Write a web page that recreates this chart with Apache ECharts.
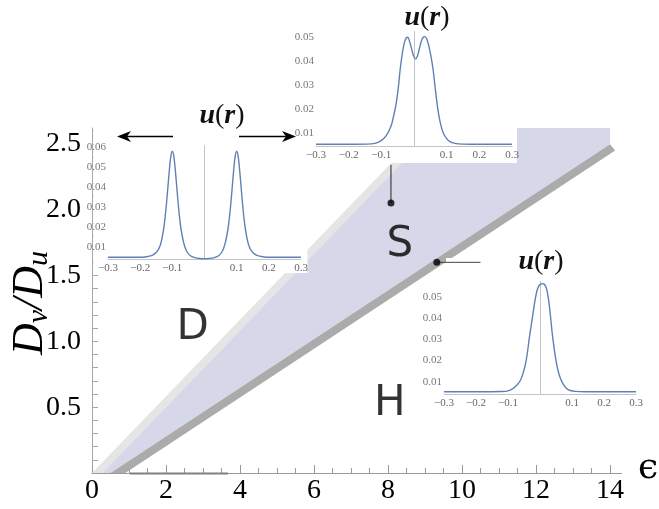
<!DOCTYPE html>
<html><head><meta charset="utf-8">
<script src="https://cdn.jsdelivr.net/npm/echarts@6/dist/echarts.min.js"></script>
<style>html,body{margin:0;padding:0;background:#fff}#c{width:659px;height:509px}</style>
</head><body><div id="c"></div>
<script>
// ---- main phase diagram (epsilon vs Dv/Du) ----
const xTickLabels = [0, 2, 4, 6, 8, 10, 12, 14];
const yTickLabels = [0.5, 1.0, 1.5, 2.0, 2.5];
const yMinorTicks = [0.1,0.2,0.3,0.4,0.5,0.6,0.7,0.8,0.9,1.0,1.1,1.2,1.3,1.4,1.5,1.6,1.7,1.8,1.9,2.0,2.1,2.2,2.3,2.4,2.5,2.6];
const lightBand = [[0,0],[0.28,0],[9.28,2.62],[9.0,2.62]];
const lavenderBand = [[0.28,0],[0.5,0],[14,2.4975],[14,2.62],[9.28,2.62]];
const darkBand = [[0.5,0],[0.9,0],[14.14,2.449],[14.0,2.4975]];
const markerDots = [[8.08,2.05],[9.32,1.60]];
const pointer1 = [[8.08,2.05],[8.08,2.34]];
const pointer2 = [[9.32,1.60],[10.5,1.60]];
const regionNames = ['D','S','H'];
const regionPos = [[2.72,1.10],[8.32,1.73],[8.05,0.52]];

// ---- inset profiles u(r) ----
const insetRTicks = [-0.3,-0.2,-0.1,0.1,0.2,0.3];
const inset1UTicks = [0.01,0.02,0.03,0.04,0.05,0.06];
const inset23UTicks = [0.01,0.02,0.03,0.04,0.05];
const inset1 = [[-0.3,.0047],[-0.25,.0047],[-0.2,.0047],[-0.18,.0050],[-0.165,.0055],[-0.155,.0064],[-0.145,.0082],[-0.14,.0097],[-0.135,.0122],[-0.13,.0160],[-0.125,.0212],[-0.12,.0285],[-0.115,.0375],[-0.11,.0470],[-0.105,.0548],[-0.1,.0577],[-0.095,.0548],[-0.09,.0470],[-0.085,.0375],[-0.08,.0285],[-0.075,.0212],[-0.07,.0160],[-0.065,.0122],[-0.06,.0095],[-0.055,.0076],[-0.045,.0056],[-0.03,.0045],[-0.015,.0041],[0,.0040],
  [0.015,.0041],[0.03,.0045],[0.045,.0056],[0.055,.0076],[0.06,.0095],[0.065,.0122],[0.07,.0160],[0.075,.0212],[0.08,.0285],[0.085,.0375],[0.09,.0470],[0.095,.0548],[0.1,.0577],[0.105,.0548],[0.11,.0470],[0.115,.0375],[0.12,.0285],[0.125,.0212],[0.13,.0160],[0.135,.0122],[0.14,.0097],[0.145,.0082],[0.155,.0064],[0.165,.0055],[0.18,.0050],[0.2,.0047],[0.25,.0047],[0.3,.0047]];
const inset2 = [[-0.3,.0054],[-0.2,.0054],[-0.13,.0056],[-0.11,.0062],[-0.095,.0075],[-0.085,.0090],[-0.075,.0115],[-0.068,.0140],[-0.062,.0175],[-0.055,.0220],[-0.048,.0290],[-0.042,.0370],[-0.036,.0430],[-0.030,.0475],[-0.024,.0497],[-0.019,.0500],[-0.014,.0485],[-0.008,.0455],[-0.002,.0425],[0.004,.0410],[0.010,.0420],[0.016,.0450],[0.022,.0482],[0.028,.0500],[0.034,.0503],[0.040,.0490],[0.046,.0460],[0.052,.0420],[0.058,.0370],[0.064,.0300],[0.070,.0230],[0.076,.0175],[0.083,.0130],[0.090,.0100],[0.100,.0078],[0.110,.0065],[0.125,.0058],[0.15,.0055],[0.2,.0054],[0.3,.0054]];
const inset3 = [[-0.3,.0053],[-0.2,.0053],[-0.12,.0054],[-0.10,.0057],[-0.085,.0068],[-0.072,.0085],[-0.062,.0105],[-0.054,.0135],[-0.046,.0180],[-0.040,.0230],[-0.034,.0300],[-0.028,.0360],[-0.022,.0420],[-0.016,.0480],[-0.010,.0525],[-0.004,.0550],[0.002,.0560],[0.008,.0562],[0.014,.0558],[0.020,.0540],[0.026,.0495],[0.032,.0420],[0.038,.0330],[0.044,.0260],[0.050,.0200],[0.056,.0155],[0.064,.0115],[0.072,.0090],[0.082,.0070],[0.095,.0059],[0.11,.0055],[0.14,.0053],[0.3,.0053]];

const SERIF = 'Liberation Serif';
const chart = echarts.init(document.getElementById('c'), null, {renderer:'canvas'});

function poly(points, color, z){
  return {type:'custom', xAxisIndex:0, yAxisIndex:0, z:z, silent:true, clip:false, data:[0],
    renderItem:(p, api)=>({type:'polygon', shape:{points: points.map(q=>api.coord(q))}, style:{fill:color}})};
}
function insetX(i){
  return {type:'value', gridIndex:i, min:-0.3, max:0.3, z:10,
    axisLine:{show:true, onZero:false, lineStyle:{color:'#c4c4c4', width:1}},
    axisTick:{show:false}, splitLine:{show:false},
    axisLabel:{customValues:insetRTicks, color:'#666', fontFamily:SERIF, fontSize:11, margin:4,
      formatter:v=>(v<0?'\u2212':'')+Math.abs(v).toFixed(1)}};
}
function insetY(i, min, max, ticks){
  return {type:'value', gridIndex:i, min:min, max:max, z:10,
    axisLine:{show:true, onZero:true, lineStyle:{color:'#c4c4c4', width:1}},
    axisTick:{show:false}, splitLine:{show:false},
    axisLabel:{customValues:ticks, color:'#777', fontFamily:SERIF, fontSize:11, margin:2,
      formatter:v=>v.toFixed(2)}};
}
function insetLine(i, data){
  return {type:'line', xAxisIndex:i, yAxisIndex:i, data:data, z:10, showSymbol:false, symbol:'none',
    smooth:0.3, silent:true, lineStyle:{color:'#5e81b5', width:1.4}};
}
function title(x, y){
  return {type:'text', x:x, y:y, z:20, style:{text:'{i|u}{n|(}{i|r}{n|)}', align:'center', verticalAlign:'middle',
    rich:{i:{fontFamily:SERIF, fontStyle:'italic', fontWeight:'bold', fontSize:28, fill:'#111'},
          n:{fontFamily:SERIF, fontSize:28, fill:'#111'}}}};
}

const option = {
  animation:false,
  backgroundColor:'#fff',
  grid:[
    {left:92, right:49, top:128, bottom:36},
    {left:108, top:145.7, width:193, height:113.4},
    {left:316, top:31.3, width:196, height:114.7},
    {left:444, top:281.5, width:192, height:112.6}
  ],
  xAxis:[
    {type:'value', gridIndex:0, min:0, max:14, interval:2,
      axisLine:{lineStyle:{color:'#9a9a9a', width:1}},
      axisTick:{inside:true, length:8, lineStyle:{color:'#9a9a9a'}},
      minorTick:{show:true, splitNumber:4, length:5, lineStyle:{color:'#9a9a9a'}},
      splitLine:{show:false}, minorSplitLine:{show:false},
      axisLabel:{color:'#000', fontFamily:SERIF, fontSize:28, margin:4}},
    insetX(1), insetX(2), insetX(3)
  ],
  yAxis:[
    {type:'value', gridIndex:0, min:0, max:2.62,
      axisLine:{show:true, lineStyle:{color:'#a8a8a8', width:1}},
      axisTick:{show:true, inside:true, length:6, customValues:yMinorTicks, lineStyle:{color:'#a8a8a8'}},
      splitLine:{show:false},
      axisLabel:{customValues:yTickLabels, color:'#000', fontFamily:SERIF, fontSize:28, margin:11,
        formatter:v=>v.toFixed(1)}},
    insetY(1, 0.0038, 0.0605, inset1UTicks),
    insetY(2, 0.0047, 0.0525, inset23UTicks),
    insetY(3, 0.0042, 0.0572, inset23UTicks)
  ],
  series:[
    poly(lightBand, '#e5e5e5', 1),
    poly(lavenderBand, '#d7d7ea', 1),
    poly(darkBand, '#ababab', 1),
    insetLine(1, inset1), insetLine(2, inset2), insetLine(3, inset3),
    {type:'line', xAxisIndex:0, yAxisIndex:0, data:pointer1, z:12, symbol:'none', silent:true, lineStyle:{color:'#222', width:1}},
    {type:'line', xAxisIndex:0, yAxisIndex:0, data:pointer2, z:12, symbol:'none', silent:true, lineStyle:{color:'#444', width:1}},
    {type:'scatter', xAxisIndex:0, yAxisIndex:0, data:markerDots, z:13, symbolSize:7, silent:true, itemStyle:{color:'#000'}},
    {type:'scatter', xAxisIndex:0, yAxisIndex:0, z:13, symbolSize:0, silent:true,
      data:regionNames.map((n,i)=>({name:n, value:regionPos[i]})),
      label:{show:true, position:'inside', formatter:'{b}', fontFamily:'DejaVu Sans', fontSize:42, color:'#000'}}
  ],
  graphic:[
    {type:'rect', z:3, shape:{x:93.5, y:128, width:214, height:145}, style:{fill:'#fff'}},
    {type:'rect', z:3, shape:{x:310, y:0, width:207, height:163}, style:{fill:'#fff'}},
    {type:'rect', z:3, shape:{x:446, y:258, width:200, height:152}, style:{fill:'#fff'}},
    {type:'line', z:3, shape:{x1:610, y1:473.5, x2:622, y2:473.5}, style:{stroke:'#9a9a9a', lineWidth:1}},
    {type:'line', z:3, shape:{x1:130, y1:473.5, x2:228, y2:473.5}, style:{stroke:'#808080', lineWidth:2}},
    // arrows in the D inset
    {type:'line', z:20, shape:{x1:126, y1:136.5, x2:173, y2:136.5}, style:{stroke:'#000', lineWidth:1.6}},
    {type:'polygon', z:20, shape:{points:[[117,136.5],[131,131],[127,136.5],[131,142]]}, style:{fill:'#000'}},
    {type:'line', z:20, shape:{x1:239, y1:136.5, x2:287, y2:136.5}, style:{stroke:'#000', lineWidth:1.6}},
    {type:'polygon', z:20, shape:{points:[[296,136.5],[282,131],[286,136.5],[282,142]]}, style:{fill:'#000'}},
    title(222, 116), title(427, 18), title(541, 262),
    {type:'text', x:30, y:303, rotation:Math.PI/2, z:20,
      style:{text:'{i|D}{s|v}{i|/D}{s|u}', align:'center', verticalAlign:'middle',
        rich:{i:{fontFamily:SERIF, fontStyle:'italic', fontSize:44, fill:'#000', lineHeight:48, verticalAlign:'middle'},
              s:{fontFamily:SERIF, fontStyle:'italic', fontSize:30, fill:'#000', lineHeight:26, verticalAlign:'bottom'}}}},
    {type:'text', x:648, y:469, z:20, style:{text:'\u03f5', align:'center', verticalAlign:'middle',
      fontFamily:'DejaVu Serif', fontSize:36, fill:'#000'}}
  ]
};
chart.setOption(option);
</script></body></html>
